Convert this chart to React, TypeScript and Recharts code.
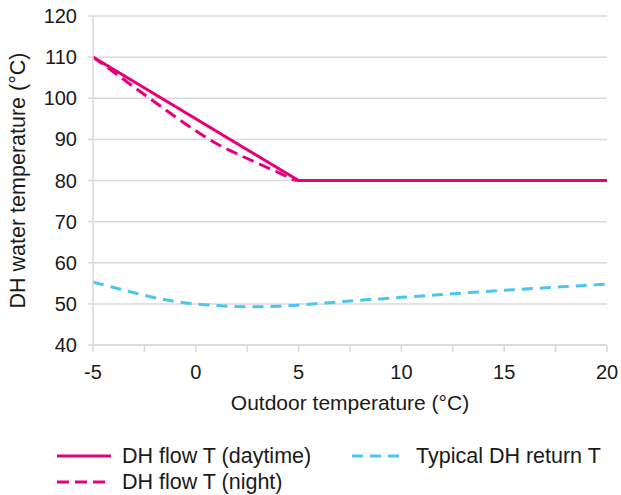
import React from 'react';
import { LineChart, Line, XAxis, YAxis, CartesianGrid, Legend, Label } from 'recharts';

const xTicks = [-5, -2.5, 0, 2.5, 5, 7.5, 10, 12.5, 15, 17.5, 20];
const yTicks = [40, 50, 60, 70, 80, 90, 100, 110, 120];

const flowDayX = [-5, 5, 20];
const flowDayY = [110, 80, 80];

const flowNightX = [-5, -4, -3, -2, -1, 0, 1, 2, 3, 4, 5, 20];
const flowNightY = [110, 106.4, 102.7, 99.1, 95.5, 92.1, 89, 86.5, 84.2, 82, 80, 80];

const returnX = [-5, -4, -3, -2, -1, 0, 1, 2, 3, 4, 5, 6, 7, 8, 9, 10, 11, 12, 13, 14, 15, 16, 17, 18, 19, 20];
const returnY = [55.3, 54.0, 52.7, 51.5, 50.6, 50.0, 49.6, 49.35, 49.3, 49.4, 49.7, 50.1, 50.5, 50.9, 51.2, 51.6, 51.9, 52.3, 52.6, 53.0, 53.3, 53.6, 53.9, 54.2, 54.5, 54.8];

const seriesNames = ['DH flow T (daytime)', 'DH flow T (night)', 'Typical DH return T'];

const PINK = '#E6007E';
const BLUE = '#4CC6F0';
const GRID = '#d9d9d9';
const TEXT = '#1a1a1a';
const FONT = '"Liberation Sans", Arial, Helvetica, sans-serif';

const zip = (xs: number[], ys: number[]) => xs.map((x, i) => ({ x, y: ys[i] }));

const dayData = zip(flowDayX, flowDayY);
const nightData = zip(flowNightX, flowNightY);
const returnData = zip(returnX, returnY);

const legendItems = [
  { name: seriesNames[0], color: PINK, dash: undefined as string | undefined, lineLeft: 57, lineW: 54, textLeft: 122, top: 36 },
  { name: seriesNames[1], color: PINK, dash: '12 6', lineLeft: 57, lineW: 54, textLeft: 122, top: 62 },
  { name: seriesNames[2], color: BLUE, dash: '11 7', lineLeft: 352, lineW: 48, textLeft: 416, top: 36 },
];

const LegendContent = () => (
  <div style={{ position: 'relative', width: 621, height: 75, fontFamily: FONT }}>
    {legendItems.map((it) => (
      <React.Fragment key={it.name}>
        <svg
          style={{ position: 'absolute', left: it.lineLeft, top: it.top - 3 }}
          width={it.lineW}
          height={6}
        >
          <line x1={0} y1={3} x2={it.lineW} y2={3} stroke={it.color} strokeWidth={3} strokeDasharray={it.dash} />
        </svg>
        <span
          style={{
            position: 'absolute',
            left: it.textLeft,
            top: it.top - 13,
            height: 26,
            lineHeight: '26px',
            fontSize: 21.5,
            color: TEXT,
            whiteSpace: 'nowrap',
          }}
        >
          {it.name}
        </span>
      </React.Fragment>
    ))}
  </div>
);

const YLabel = (props: any) => {
  const vb = props.viewBox || {};
  const cy = (vb.y ?? 16) + (vb.height ?? 329) / 2;
  const x = 25;
  return (
    <text
      x={x}
      y={cy}
      transform={`rotate(-90 ${x} ${cy})`}
      textAnchor="middle"
      fill={TEXT}
      fontSize={21.5}
      fontFamily={FONT}
    >
      DH water temperature (°C)
    </text>
  );
};

const XLabel = (props: any) => {
  const vb = props.viewBox || {};
  const cx = (vb.x ?? 93) + (vb.width ?? 514) / 2;
  const y = (vb.y ?? 345) + 65;
  return (
    <text x={cx} y={y} textAnchor="middle" fill={TEXT} fontSize={21} fontFamily={FONT}>
      Outdoor temperature (°C)
    </text>
  );
};

export default function App() {
  return (
    <div style={{ position: 'absolute', left: 0, top: 0, width: 621, height: 495, background: '#fff' }}>
      <LineChart width={621} height={495} margin={{ top: 16, right: 14, bottom: 0, left: 8 }}>
        <CartesianGrid vertical={false} stroke={GRID} strokeWidth={1.5} />
        <XAxis
          type="number"
          dataKey="x"
          domain={[-5, 20]}
          ticks={xTicks}
          interval={0}
          allowDataOverflow
          height={75}
          tickSize={7}
          tickMargin={13}
          tickFormatter={(v: number) => (v % 5 === 0 ? String(v) : '')}
          tick={{ fill: TEXT, fontSize: 20, fontFamily: FONT }}
          axisLine={{ stroke: GRID, strokeWidth: 1.5 }}
          tickLine={{ stroke: GRID, strokeWidth: 1.5 }}
        >
          <Label content={<XLabel />} />
        </XAxis>
        <YAxis
          type="number"
          domain={[40, 120]}
          ticks={yTicks}
          interval={0}
          width={85}
          tickSize={5}
          tickMargin={11}
          tick={{ fill: TEXT, fontSize: 20, fontFamily: FONT }}
          axisLine={{ stroke: GRID, strokeWidth: 1.5 }}
          tickLine={{ stroke: GRID, strokeWidth: 1.5 }}
        >
          <Label content={<YLabel />} />
        </YAxis>
        <Legend verticalAlign="bottom" content={<LegendContent />} wrapperStyle={{ left: 0, width: 621, height: 75 }} />
        <Line
          data={returnData}
          dataKey="y"
          name={seriesNames[2]}
          type="monotone"
          stroke={BLUE}
          strokeWidth={3}
          strokeDasharray="11 7"
          dot={false}
          activeDot={false}
          isAnimationActive={false}
        />
        <Line
          data={nightData}
          dataKey="y"
          name={seriesNames[1]}
          type="monotone"
          stroke={PINK}
          strokeWidth={3}
          strokeDasharray="12 6"
          dot={false}
          activeDot={false}
          isAnimationActive={false}
        />
        <Line
          data={dayData}
          dataKey="y"
          name={seriesNames[0]}
          type="linear"
          stroke={PINK}
          strokeWidth={3}
          dot={false}
          activeDot={false}
          isAnimationActive={false}
        />
      </LineChart>
    </div>
  );
}
